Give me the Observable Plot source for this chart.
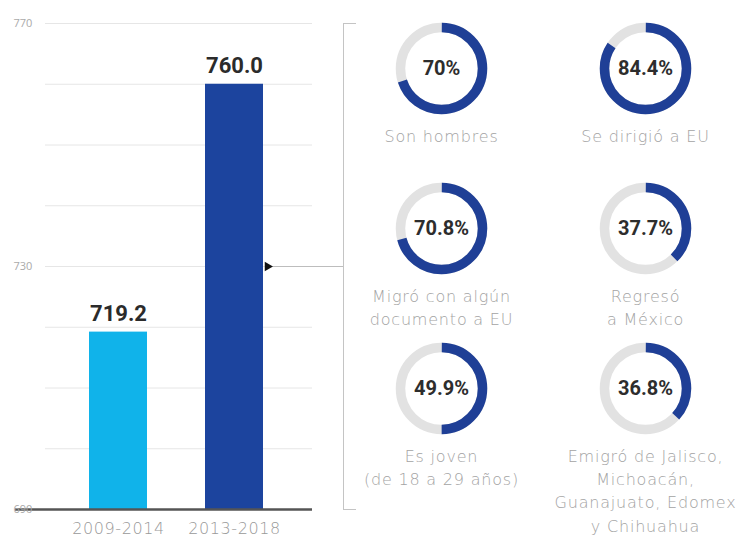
<!DOCTYPE html>
<html><head><meta charset="utf-8">
<script src="https://cdn.jsdelivr.net/npm/d3@7"></script>
<script src="https://cdn.jsdelivr.net/npm/@observablehq/plot@0.6"></script>
<style>
html,body{margin:0;padding:0;background:#fff;}
#wrap{position:relative;width:737px;height:543px;overflow:hidden;}
#bars,#donuts{position:absolute;left:0;top:0;}
#donuts g[font-weight="200"] text{letter-spacing:0.8px;}
#bars g[aria-label="x-axis tick label"] text{letter-spacing:0.6px;}
</style></head><body><div id="wrap"><div id="bars"></div><div id="donuts"></div></div>
<script>
const periods = ["2009-2014", "2013-2018"];
const totals = [719.2, 760.0];
const barColors = ["#10b3ea", "#1c449e"];
const yTickLabels = [690, 730, 770];
const gridValues = [700, 710, 720, 730, 740, 750, 760, 770];
const donutLabels = [
  "Son hombres",
  "Se dirigió a EU",
  "Migró con algún\ndocumento a EU",
  "Regresó\na México",
  "Es joven\n(de 18 a 29 años)",
  "Emigró de Jalisco,\nMichoacán,\nGuanajuato, Edomex\ny Chihuahua"
];
const donutValues = [70, 84.4, 70.8, 37.7, 49.9, 36.8];
const donutCols = [0, 1, 0, 1, 0, 1];
const donutRows = [0, 0, 1, 1, 2, 2];

const bars = periods.map((p, i) => ({period: p, total: totals[i], color: barColors[i]}));

const barPlot = Plot.plot({
  width: 360, height: 543,
  marginLeft: 15, marginRight: 17, marginTop: 23, marginBottom: 34,
  style: {fontFamily: "DejaVu Sans", background: "transparent", overflow: "visible"},
  x: {type: "band", domain: periods, range: [45, 306.4], paddingInner: 0.5, paddingOuter: 0.372, label: null},
  y: {domain: [yTickLabels[0], yTickLabels[2]], label: null},
  color: {type: "identity"},
  marks: [
    Plot.ruleY(gridValues, {stroke: "#e6e6e6", strokeWidth: 1, insetLeft: 30, insetRight: 31}),
    Plot.barY(bars, {x: "period", y1: yTickLabels[0], y2: "total", fill: "color"}),
    Plot.ruleY([yTickLabels[0]], {stroke: "#555", strokeWidth: 2.5, insetRight: 31}),
    Plot.text(bars, {x: "period", y: "total", text: d => d.total.toFixed(1), dy: -18, fontSize: 22, fontWeight: 700, fontFamily: "Roboto", fill: "#2b2b2b"}),
    Plot.ruleY([yTickLabels[1]], {stroke: "#bdbdbd", insetLeft: 250}),
    Plot.dot([yTickLabels[1]], {y: d => d, frameAnchor: "left", dx: 252, symbol: "triangle", rotate: 90, r: 3.5, fill: "#111"}),
    Plot.frame({anchor: "right", stroke: "#c4c4c4"}),
    Plot.ruleY([yTickLabels[2], yTickLabels[0]], {stroke: "#c4c4c4", insetLeft: 328, insetRight: -13}),
    Plot.axisY({ticks: yTickLabels, tickSize: 0, tickPadding: 2, textAnchor: "start", fontSize: 11, fill: "#aaa", fontFamily: "Open Sans"}),
    Plot.axisX({tickSize: 0, tickPadding: 13, fontSize: 16, fontWeight: 200, fill: "#999"})
  ]
});
document.getElementById("bars").appendChild(barPlot);

const donuts = donutValues.map((v, i) => ({value: v, label: donutLabels[i], col: donutCols[i], row: donutRows[i]}));
const R = 41, SW = 9.5, C = 2 * Math.PI * R;

const donutPlot = Plot.plot({
  width: 737, height: 543, margin: 0,
  style: {background: "transparent", overflow: "visible"},
  x: {type: "point", domain: [0, 1], range: [441, 645], padding: 0, axis: null},
  y: {type: "point", domain: [0, 1, 2], range: [67, 388], padding: 0, axis: null},
  marks: [
    Plot.dot(donuts, {x: "col", y: "row", r: R, stroke: "#e2e2e2", strokeWidth: SW, fill: "none"}),
    ...donuts.map(d => Plot.dot([d], {
      x: "col", y: "row", r: R, stroke: "#1f3f96", strokeWidth: SW, fill: "none",
      strokeDasharray: `${C * d.value / 100} ${C - C * d.value / 100}`,
      strokeDashoffset: C / 4
    })),
    Plot.text(donuts, {x: "col", y: "row", text: d => `${d.value}%`, fontSize: 20, fontWeight: 700, fontFamily: "Roboto", fill: "#2d2d2d"}),
    Plot.text(donuts, {x: "col", y: "row", text: "label", dy: 57, lineAnchor: "top", lineHeight: 1.45, fontSize: 16, fontWeight: 200, fontFamily: "DejaVu Sans", fill: "#a3a3a3"})
  ]
});
document.getElementById("donuts").appendChild(donutPlot);
</script>
</body></html>
